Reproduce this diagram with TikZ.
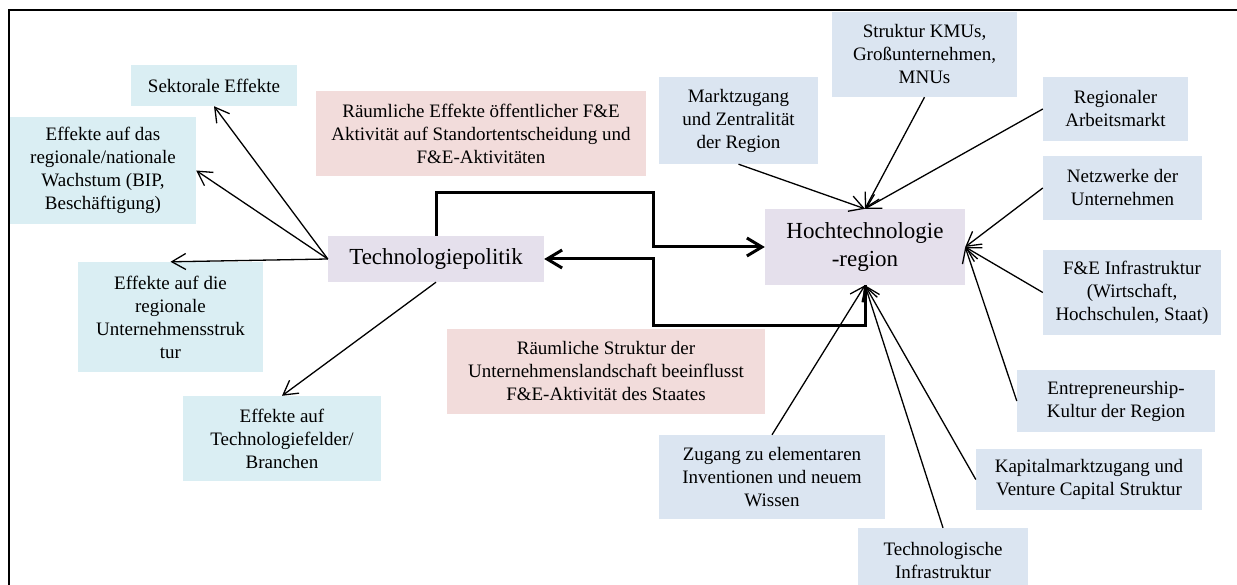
\documentclass[tikz,border=0pt]{standalone}
\usepackage{fontspec}
\setmainfont{Liberation Serif}
\usetikzlibrary{arrows.meta}
\definecolor{cyanbox}{RGB}{218,238,243}
\definecolor{bluebox}{RGB}{219,229,241}
\definecolor{pinkbox}{RGB}{242,220,219}
\definecolor{lilacbox}{RGB}{229,224,236}

\begin{document}
\begin{tikzpicture}[x=1pt,y=-1pt,
  box/.style={rectangle, inner sep=0pt, align=center, font=\fontsize{19}{23}\selectfont},
  effect/.style={box, fill=cyanbox},
  factor/.style={box, fill=bluebox},
  remark/.style={box, fill=pinkbox},
  core/.style={box, fill=lilacbox, font=\fontsize{23}{28}\selectfont},
  feed/.style={line width=1.3pt, -{Straight Barb[length=14pt,width=16pt]}},
  loop/.style={line width=3pt, -{Straight Barb[length=15pt,width=18pt]}},
]
\useasboundingbox (0,0) rectangle (1237,585);

% outer frame (open to the right and bottom)
\draw[line width=2pt] (9,600) -- (9,10) -- (1250,10);

% central nodes
\node[core, minimum width=216pt, minimum height=46pt] (tp) at (436,259) {Technologiepolitik};
\node[core, minimum width=200pt, minimum height=76pt] (ht) at (865,247) {Hochtechnologie\\-region};

% effects of technology policy
\node[effect, minimum width=166pt, minimum height=41pt] (sek) at (214,85.5) {Sektorale Effekte};
\node[effect, minimum width=186pt, minimum height=107pt] (wach) at (103,170.5)
  {Effekte auf das\\regionale/nationale\\Wachstum (BIP,\\Beschäftigung)};
\node[effect, minimum width=185pt, minimum height=110pt] (unt) at (170.5,317)
  {Effekte auf die\\regionale\\Unternehmensstruk\\tur};
\node[effect, minimum width=198pt, minimum height=85pt] (tf) at (282,438.5)
  {Effekte auf\\Technologiefelder/\\Branchen};

% remarks on the feedback loop
\node[remark, minimum width=330pt, minimum height=85pt] (rem1) at (481,133.5)
  {Räumliche Effekte öffentlicher F\&E\\Aktivität auf Standortentscheidung und\\F\&E-Aktivitäten};
\node[remark, minimum width=318pt, minimum height=85pt] (rem2) at (606,371.5)
  {Räumliche Struktur der\\Unternehmenslandschaft beeinflusst\\F\&E-Aktivität des Staates};

% regional factors
\node[factor, minimum width=159pt, minimum height=87pt] (markt) at (738.5,120.5)
  {Marktzugang\\und Zentralität\\der Region};
\node[factor, minimum width=185pt, minimum height=85pt] (kmu) at (924.5,54.5)
  {Struktur KMUs,\\Großunternehmen,\\MNUs};
\node[factor, minimum width=145pt, minimum height=64pt] (arb) at (1115.5,109)
  {Regionaler\\Arbeitsmarkt};
\node[factor, minimum width=159pt, minimum height=64pt] (netz) at (1122.5,188)
  {Netzwerke der\\Unternehmen};
\node[factor, minimum width=178pt, minimum height=85pt] (fe) at (1132,292.5)
  {F\&E Infrastruktur\\(Wirtschaft,\\Hochschulen, Staat)};
\node[factor, minimum width=198pt, minimum height=62pt] (ent) at (1116,401)
  {Entrepreneurship-\\Kultur der Region};
\node[factor, minimum width=226pt, minimum height=61pt] (kap) at (1089,479.5)
  {Kapitalmarktzugang und\\Venture Capital Struktur};
\node[factor, minimum width=226pt, minimum height=84pt] (zug) at (772,477)
  {Zugang zu elementaren\\Inventionen und neuem\\Wissen};
\node[factor, minimum width=170pt, minimum height=64pt] (tech) at (943,560)
  {Technologische\\Infrastruktur};

% arrows from technology policy to its effects
\draw[feed] (tp.west) -- (sek.south);
\draw[feed] (tp.west) -- (wach.east);
\draw[feed] (tp.west) -- (unt.north);
\draw[feed] (tp.south) -- (tf.north);

% arrows from the factors into the high-tech region
\draw[feed] (markt.south) -- (ht.north);
\draw[feed] (kmu.south) -- (ht.north);
\draw[feed] (arb.west) -- (ht.north);
\draw[feed] (netz.west) -- (ht.east);
\draw[feed] (fe.west) -- (ht.east);
\draw[feed] (ent.west) -- (ht.east);
\draw[feed] (zug.north) -- (ht.south);
\draw[feed] (tech.north) -- (ht.south);
\draw[feed] (kap.west) -- (ht.south);

% feedback loop between policy and region
\coordinate (up) at (653,193);
\coordinate (down) at (653,326);
\draw[loop] (tp.north) |- (up) |- (ht.west);
\draw[loop] (ht.south) |- (down) |- (tp.east);
\end{tikzpicture}
\end{document}
